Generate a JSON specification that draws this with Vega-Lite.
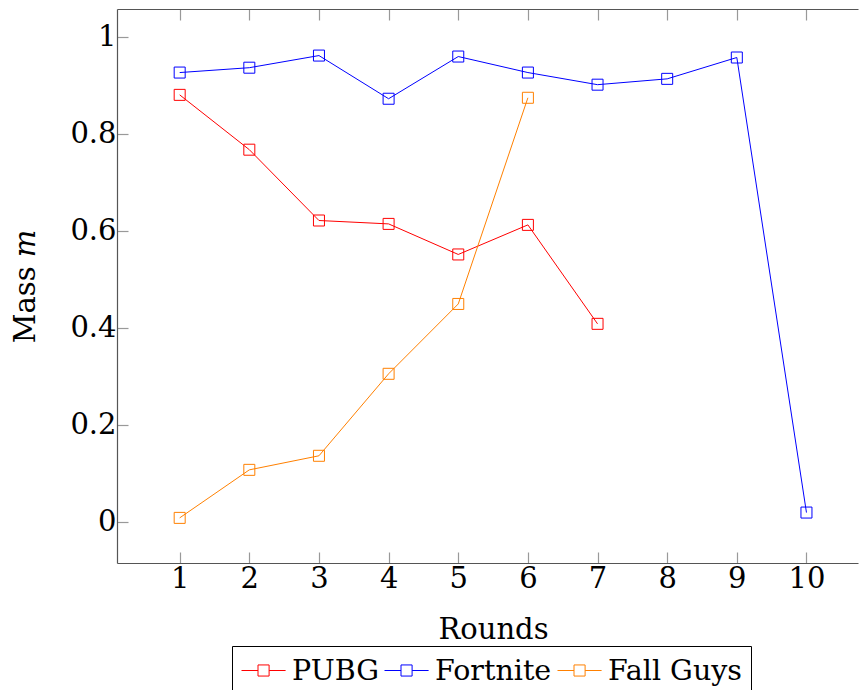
{
  "$schema": "https://vega.github.io/schema/vega-lite/v6.json",
  "width": 741,
  "height": 554,
  "autosize": "none",
  "padding": {"left": 117, "top": 9, "right": 2, "bottom": 127},
  "config": {
    "view": {"stroke": null},
    "font": "DejaVu Serif",
    "axis": {"grid": false, "domainColor": "#555555", "domainWidth": 1.2, "tickColor": "#999999", "tickWidth": 1.2, "labelFont": "DejaVu Serif", "labelFontSize": 29, "labelColor": "black", "titleFont": "DejaVu Serif", "titleFontSize": 29, "titleFontWeight": "normal", "titleColor": "black"}
  },
  "data": {
    "values": [
      {"round": 1, "game": "PUBG", "mass": 0.880},
      {"round": 2, "game": "PUBG", "mass": 0.767},
      {"round": 3, "game": "PUBG", "mass": 0.621},
      {"round": 4, "game": "PUBG", "mass": 0.614},
      {"round": 5, "game": "PUBG", "mass": 0.551},
      {"round": 6, "game": "PUBG", "mass": 0.612},
      {"round": 7, "game": "PUBG", "mass": 0.408},
      {"round": 1, "game": "Fortnite", "mass": 0.926},
      {"round": 2, "game": "Fortnite", "mass": 0.936},
      {"round": 3, "game": "Fortnite", "mass": 0.961},
      {"round": 4, "game": "Fortnite", "mass": 0.872},
      {"round": 5, "game": "Fortnite", "mass": 0.959},
      {"round": 6, "game": "Fortnite", "mass": 0.926},
      {"round": 7, "game": "Fortnite", "mass": 0.901},
      {"round": 8, "game": "Fortnite", "mass": 0.913},
      {"round": 9, "game": "Fortnite", "mass": 0.957},
      {"round": 10, "game": "Fortnite", "mass": 0.019},
      {"round": 1, "game": "Fall Guys", "mass": 0.008},
      {"round": 2, "game": "Fall Guys", "mass": 0.107},
      {"round": 3, "game": "Fall Guys", "mass": 0.136},
      {"round": 4, "game": "Fall Guys", "mass": 0.305},
      {"round": 5, "game": "Fall Guys", "mass": 0.449},
      {"round": 6, "game": "Fall Guys", "mass": 0.874}
    ]
  },
  "encoding": {
    "y": {
      "field": "mass", "type": "quantitative",
      "scale": {"domain": [-0.085, 1.057], "nice": false, "zero": false},
      "axis": {"values": [0, 0.2, 0.4, 0.6, 0.8, 1], "format": "~g", "tickSize": -11, "labelPadding": 12, "title": "Mass 𝑚", "titleX": -83, "titleY": 277, "titleBaseline": "alphabetic"}
    },
    "color": {
      "field": "game", "type": "nominal",
      "sort": ["PUBG", "Fortnite", "Fall Guys"],
      "scale": {"domain": ["PUBG", "Fortnite", "Fall Guys"], "range": ["#ff0000", "#0000ff", "#ff8000"]},
      "legend": {
        "title": null, "orient": "none", "legendX": 115, "legendY": 637, "direction": "horizontal",
        "strokeColor": "black", "padding": 9,
        "symbolType": "M-1,0H0.1M0.84,0H1.94M0.1,-0.37H0.84V0.37H0.1Z",
        "symbolSize": 900, "symbolStrokeWidth": 1, "symbolFillColor": "transparent",
        "labelFont": "DejaVu Serif", "labelFontSize": 28.5, "labelColor": "black",
        "labelOffset": 20, "columnPadding": 3
      }
    }
  },
  "layer": [
    {
      "mark": {"type": "line", "strokeWidth": 1, "point": {"shape": "square", "filled": false, "size": 121, "strokeWidth": 1}},
      "encoding": {
        "x": {
          "field": "round", "type": "quantitative",
          "scale": {"domain": [0.1, 10.74], "nice": false, "zero": false},
          "axis": {"values": [1, 2, 3, 4, 5, 6, 7, 8, 9, 10], "tickSize": -11, "labelPadding": 12, "title": "Rounds", "titleX": 376, "titleY": 75, "titleBaseline": "alphabetic"}
        }
      }
    },
    {
      "mark": {"type": "point", "opacity": 0},
      "encoding": {
        "x": {
          "field": "round", "type": "quantitative",
          "axis": {"orient": "top", "values": [1, 2, 3, 4, 5, 6, 7, 8, 9, 10], "tickSize": -11, "labels": false, "title": null}
        }
      }
    }
  ],
  "resolve": {"axis": {"x": "independent"}}
}
